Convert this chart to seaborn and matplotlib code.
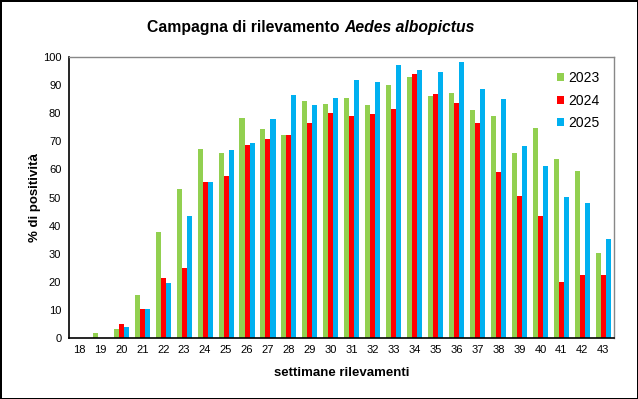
import matplotlib
matplotlib.use("Agg")
import matplotlib.pyplot as plt
import seaborn as sns
import pandas as pd
import numpy as np

# weeks and % positive traps per year
weeks = list(range(18, 44))
pos_2023 = [0, 1.7, 3.2, 15.3, 37.7, 53.0, 67.3, 65.8, 78.3, 74.4, 72.2, 84.3, 83.3,
            85.4, 82.9, 90.0, 92.9, 86.1, 87.2, 81.1, 79.0, 65.8, 74.7, 63.7, 59.4, 30.2]
pos_2024 = [0, 0, 5.0, 10.3, 21.4, 24.9, 55.5, 57.6, 68.7, 70.8, 72.2, 76.5, 80.1,
            79.0, 79.7, 81.5, 93.9, 86.8, 83.6, 76.5, 59.1, 50.5, 43.4, 19.9, 22.4, 22.4]
pos_2025 = [0, 0, 4.0, 10.3, 19.6, 43.5, 55.5, 66.9, 69.4, 77.9, 86.5, 82.9, 85.4,
            91.8, 91.1, 97.2, 95.4, 94.7, 98.2, 88.6, 85.1, 68.3, 61.2, 50.2, 48.0, 35.2]
years = ["2023", "2024", "2025"]
colors = ["#92D050", "#FF0000", "#00B0F0"]

df = pd.DataFrame({
    "settimana": [str(w) for w in weeks] * 3,
    "anno": np.repeat(years, len(weeks)),
    "positivita": pos_2023 + pos_2024 + pos_2025,
})

sns.set_style("white")
plt.rcParams["font.family"] = ["Liberation Sans", "DejaVu Sans"]
for key in ["text.color", "axes.labelcolor", "xtick.color", "ytick.color"]:
    plt.rcParams[key] = "black"

fig = plt.figure(figsize=(6.38, 3.99), dpi=100)
ax = fig.add_axes([0.108, 0.153, 0.854, 0.704])

sns.barplot(data=df, x="settimana", y="positivita", hue="anno",
            palette=colors, width=0.72, saturation=1, linewidth=0,
            edgecolor="none", ax=ax)

ax.set_ylim(0, 100)
ax.set_xlim(-0.5, len(weeks) - 0.5)
ax.set_yticks(range(0, 101, 10))
ax.tick_params(axis="y", direction="inout", length=5, width=1, labelsize=8, pad=3)
ax.tick_params(axis="x", which="major", length=0, labelsize=8, pad=5)
ax.set_xticks(np.arange(-0.5, len(weeks), 1), minor=True)
ax.tick_params(axis="x", which="minor", direction="inout", length=6, width=1)

for side in ["left", "bottom"]:
    ax.spines[side].set_color("black")
    ax.spines[side].set_linewidth(1.2)
for side in ["top", "right"]:
    ax.spines[side].set_color("#888888")
    ax.spines[side].set_linewidth(1.0)

ax.set_xlabel("settimane rilevamenti", fontsize=9.5, fontweight="bold", labelpad=8.5)
ax.set_ylabel("% di positività", fontsize=9.5, fontweight="bold", labelpad=1.5)

ax.legend(title=None, frameon=False, loc="upper left",
          bbox_to_anchor=(0.873, 0.822), bbox_transform=fig.transFigure,
          borderpad=0, borderaxespad=0,
          fontsize=10, handlelength=0.5, handleheight=0.5, handletextpad=0.3,
          labelspacing=0.62)

fig.text(0.532, 0.932, "Campagna di rilevamento", ha="right", va="center",
         fontsize=11.3, fontweight="bold")
fig.text(0.540, 0.932, "Aedes albopictus", ha="left", va="center",
         fontsize=11.3, fontweight="bold", style="italic")

fig.patch.set_edgecolor("black")
fig.patch.set_linewidth(2)

fig.savefig("out.png", dpi=100)
